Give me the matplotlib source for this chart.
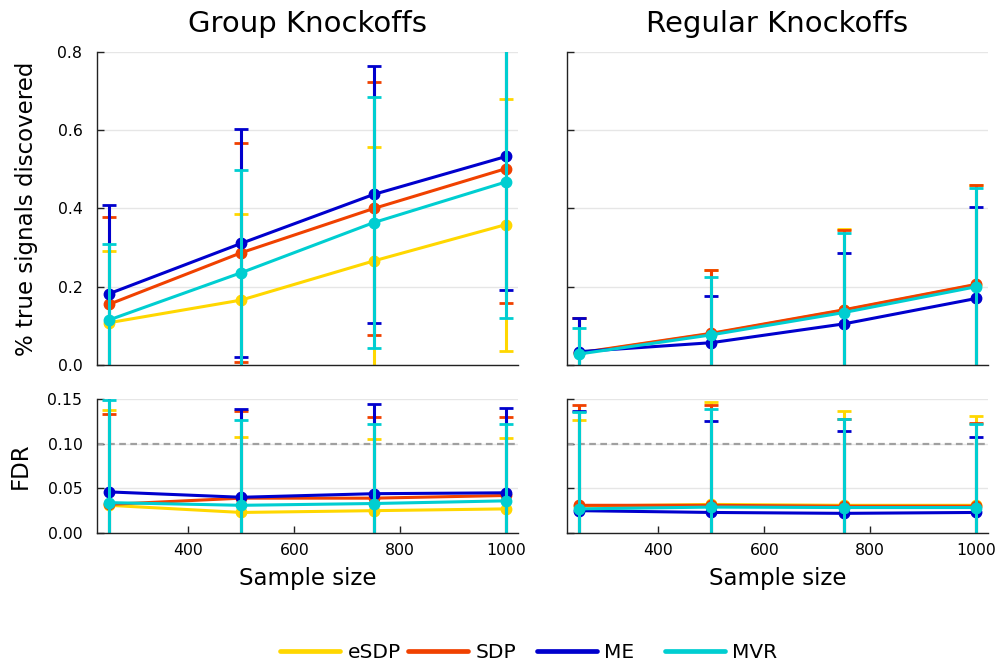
import numpy as np
import matplotlib
matplotlib.use("Agg")
import matplotlib.pyplot as plt
from matplotlib.lines import Line2D

# sample sizes and methods
sizes = [250, 500, 750, 1000]
methods = ["eSDP", "SDP", "ME", "MVR"]
colors = ["#FFD700", "#F04100", "#0000CD", "#00CED1"]

# power (fraction of true signals discovered): mean and sd per method
group_power = [[0.108, 0.166, 0.266, 0.359],
               [0.155, 0.287, 0.400, 0.502],
               [0.182, 0.311, 0.436, 0.533],
               [0.115, 0.236, 0.364, 0.468]]
group_power_sd = [[0.184, 0.220, 0.292, 0.322],
                  [0.222, 0.280, 0.324, 0.343],
                  [0.227, 0.291, 0.328, 0.342],
                  [0.194, 0.262, 0.320, 0.347]]
regular_power = [[0.030, 0.080, 0.140, 0.205],
                 [0.031, 0.081, 0.141, 0.206],
                 [0.034, 0.057, 0.105, 0.170],
                 [0.028, 0.077, 0.134, 0.200]]
regular_power_sd = [[0.089, 0.163, 0.207, 0.256],
                    [0.088, 0.162, 0.204, 0.253],
                    [0.085, 0.120, 0.180, 0.233],
                    [0.067, 0.148, 0.204, 0.253]]

# false discovery rate: mean and sd per method
group_fdr = [[0.031, 0.023, 0.025, 0.027],
             [0.032, 0.039, 0.039, 0.042],
             [0.046, 0.040, 0.044, 0.045],
             [0.034, 0.031, 0.033, 0.036]]
group_fdr_sd = [[0.107, 0.085, 0.080, 0.079],
                [0.101, 0.098, 0.091, 0.088],
                [0.110, 0.099, 0.100, 0.095],
                [0.115, 0.095, 0.089, 0.086]]
regular_fdr = [[0.030, 0.032, 0.031, 0.031],
               [0.031, 0.031, 0.030, 0.030],
               [0.025, 0.023, 0.022, 0.023],
               [0.027, 0.029, 0.0285, 0.0285]]
regular_fdr_sd = [[0.097, 0.115, 0.106, 0.100],
                  [0.112, 0.112, 0.098, 0.093],
                  [0.112, 0.102, 0.092, 0.085],
                  [0.108, 0.110, 0.099, 0.093]]

target_fdr = 0.1

fig = plt.figure(figsize=(9.98, 6.64), dpi=100)
W, H = 998, 664

def axes_px(l, t, r, b):
    return fig.add_axes([l / W, 1 - b / H, (r - l) / W, (b - t) / H])

ax_gp = axes_px(97, 52, 518, 365)
ax_rp = axes_px(567, 52, 988, 365)
ax_gf = axes_px(97, 399, 518, 533)
ax_rf = axes_px(567, 399, 988, 533)

def style(ax, ylim, yticks, ylabels, xlabels):
    ax.set_xlim(227.5, 1022.5)
    ax.set_ylim(*ylim)
    for s in ["top", "right"]:
        ax.spines[s].set_visible(False)
    for s in ["left", "bottom"]:
        ax.spines[s].set_color("#222222")
        ax.spines[s].set_linewidth(1.0)
    ax.set_yticks(yticks)
    ax.grid(axis="y", color="#e6e6e6", linewidth=1.0)
    ax.set_axisbelow(True)
    ax.tick_params(direction="in", length=5, width=1, labelsize=11.3,
                   colors="#222222", labelcolor="black")
    ax.tick_params(axis="y", pad=10.5)
    ax.tick_params(axis="x", pad=7)
    if ylabels is None:
        ax.set_yticklabels([])
    else:
        ax.set_yticklabels(ylabels)
    if xlabels:
        ax.set_xticks([400, 600, 800, 1000])
        ax.set_xticklabels(["400", "600", "800", "1000"])
        ax.set_xlabel("Sample size", fontsize=16.5)
        ax.xaxis.set_label_coords(0.5, -0.34)
        ax.xaxis.label.set_va("center")
    else:
        ax.set_xticks([])

def draw(ax, means, sds):
    for m, s, c in zip(means, sds, colors):
        ax.errorbar(sizes, m, yerr=s, fmt="none", ecolor=c, elinewidth=2.2,
                    capsize=4.7, capthick=2.0)
        ax.plot(sizes, m, color=c, linewidth=2.2, marker="o",
                markersize=7.5, markeredgecolor=c)

draw(ax_gp, group_power, group_power_sd)
draw(ax_rp, regular_power, regular_power_sd)
draw(ax_gf, group_fdr, group_fdr_sd)
draw(ax_rf, regular_fdr, regular_fdr_sd)

for ax in (ax_gf, ax_rf):
    ax.axhline(target_fdr, color="#a0a0a0", linewidth=1.6,
               linestyle=(0, (3, 2)), zorder=1)

style(ax_gp, (0, 0.8), [0, 0.2, 0.4, 0.6, 0.8],
      ["0.0", "0.2", "0.4", "0.6", "0.8"], False)
style(ax_rp, (0, 0.8), [0, 0.2, 0.4, 0.6, 0.8], None, False)
style(ax_gf, (0, 0.15), [0, 0.05, 0.1, 0.15],
      ["0.00", "0.05", "0.10", "0.15"], True)
style(ax_rf, (0, 0.15), [0, 0.05, 0.1, 0.15], None, True)

ax_gp.set_ylabel("% true signals discovered", fontsize=16.5)
ax_gp.yaxis.set_label_coords(-0.140, 0.5)
ax_gf.set_ylabel("FDR", fontsize=16.5)
ax_gf.yaxis.set_label_coords(-0.154, 0.5)

ax_gp.set_title("Group Knockoffs", fontsize=21, pad=14.4)
ax_rp.set_title("Regular Knockoffs", fontsize=21, pad=14.4)

# legend entries laid out in fixed-width columns along the bottom
legend_x = [280, 408, 537, 665]
for name, c, x in zip(methods, colors, legend_x):
    h = Line2D([], [], color=c, linewidth=3.4, solid_capstyle="round")
    fig.legend([h], [name], loc="center left",
               bbox_to_anchor=(x / W, 1 - 653 / H), frameon=False,
               fontsize=14.5, handlelength=3.0, handletextpad=0.35,
               borderpad=0, borderaxespad=0)

fig.savefig("out.png", dpi=100)
